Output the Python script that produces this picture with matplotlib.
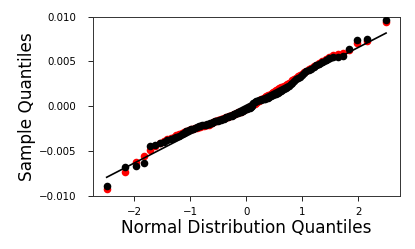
import numpy as np
import matplotlib
matplotlib.use("Agg")
import matplotlib.pyplot as plt
from statistics import NormalDist

# Sorted sample values (x1e-4)
black_vals = [-89, -68, -67, -64, -45, -43, -41, -40, -38, -37,
              -36, -34, -33, -31, -30, -28, -27, -26, -25, -24,
              -23.5, -22.5, -22, -21.5, -21, -20.5, -20, -19.5, -19, -18.5,
              -18, -17, -16.5, -16, -15.5, -15, -14, -14, -13, -12.5,
              -12, -11.5, -11, -10.5, -10, -9, -8.5, -8, -7.5, -7,
              -6.5, -5.5, -5, -4, -3.5, -3, -2, -1.5, -1, 0,
              4, 5, 5.5, 6, 6.5, 7, 7, 7.5, 8, 8.5,
              9, 9.5, 10, 11, 12, 12.5, 13.5, 14, 15, 16,
              17, 18, 19, 20, 21.5, 23, 24.5, 26, 28, 30,
              31.5, 33, 35, 37, 39, 40.5, 42, 44, 45.5, 47,
              49, 51.5, 53.5, 55, 55.5, 56, 64, 74, 75.5, 96]
red_vals = [-92, -74, -62, -56, -49, -45, -41, -39, -37, -35,
            -34, -32, -31, -30, -29, -28, -27, -26, -25, -24.5,
            -24, -23.5, -23, -22.5, -22, -21.5, -21, -20.5, -20, -19,
            -18, -17, -16, -15.5, -15, -14.5, -14, -13.5, -13, -12.5,
            -12, -11, -10.5, -10, -9.5, -9, -8.5, -8, -7, -6.5,
            -6, -5, -4.5, -4, -3, -2.5, -2, -1, 0, 1,
            2, 3, 4, 5, 6, 7, 7.5, 8, 9, 10,
            11, 12, 13, 14, 15, 16, 17, 18, 19, 20,
            21, 22, 23, 24, 25, 26, 27.5, 29, 30.5, 32,
            33.5, 35, 36.5, 38, 39.5, 41, 43, 44.5, 46, 48,
            50, 52.5, 55, 57.5, 58.5, 59, 63, 71, 73, 94]

black = np.array(black_vals) * 1e-4
red = np.array(red_vals) * 1e-4

n = len(black)
# Filliben plotting positions (as in scipy.stats.probplot)
p = (np.arange(1, n + 1) - 0.3175) / (n + 0.365)
p[-1] = 0.5 ** (1.0 / n)
p[0] = 1 - p[-1]
nd = NormalDist()
theo = np.array([nd.inv_cdf(v) for v in p])

slope, intercept = np.polyfit(theo, black, 1)

fig = plt.figure(figsize=(4.15, 2.49), dpi=100)
ax = fig.add_axes([0.2234, 0.214, 0.7405, 0.719])
ax.scatter(theo, red, s=30, color="red", zorder=2, linewidths=0)
ax.scatter(theo, black, s=30, color="black", zorder=3, linewidths=0)
xl = np.array([theo[0], theo[-1]])
ax.plot(xl, slope * xl + intercept, color="black", lw=1.2, zorder=4)

ax.set_ylim(-0.01, 0.01)
ax.set_yticks([-0.01, -0.005, 0, 0.005, 0.01])
ax.set_yticklabels(["\u22120.010", "\u22120.005", "0.000", "0.005", "0.010"])
ax.set_xticks([-2, -1, 0, 1, 2])
ax.tick_params(labelsize=7.4, length=3.5, width=0.6)
ax.tick_params(axis="x", pad=4.8)
ax.tick_params(axis="y", pad=8.2)
for s in ax.spines.values():
    s.set_linewidth(0.7)
    s.set_color("#333333")
ax.set_xlabel("Normal Distribution Quantiles", fontsize=12.2, labelpad=1.5)
ax.set_ylabel("Sample Quantiles", fontsize=12.2, labelpad=2)

fig.savefig("out.png", dpi=100)
